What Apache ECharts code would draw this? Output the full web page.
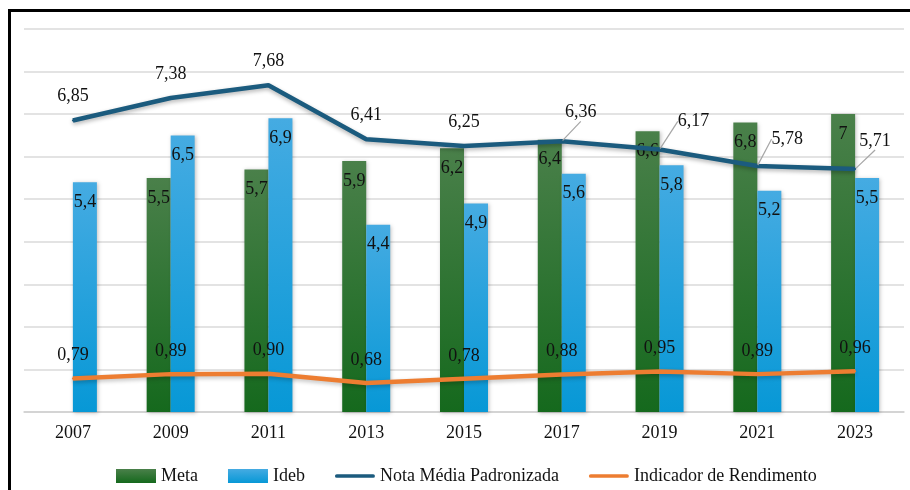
<!DOCTYPE html>
<html>
<head>
<meta charset="utf-8">
<script src="https://cdn.jsdelivr.net/npm/echarts@6/dist/echarts.min.js"></script>
<style>
  html, body { margin: 0; padding: 0; background: #fff; }
  #chart { width: 910px; height: 490px; }
</style>
</head>
<body>
<div id="chart"></div>
<script>
// anos
const years = ['2007', '2009', '2011', '2013', '2015', '2017', '2019', '2021', '2023'];
// barras
const meta = [null, 5.5, 5.7, 5.9, 6.2, 6.4, 6.6, 6.8, 7];
const ideb = [5.4, 6.5, 6.9, 4.4, 4.9, 5.6, 5.8, 5.2, 5.5];
// linhas
const notaMedia = [6.85, 7.38, 7.68, 6.41, 6.25, 6.36, 6.17, 5.78, 5.71];
const rendimento = [0.79, 0.89, 0.90, 0.68, 0.78, 0.88, 0.95, 0.89, 0.96];

// deslocamento dos rótulos com linha de chamada (só layout)
const notaCallout = { 5: [19, -5], 6: [34, -4], 7: [30, -3], 8: [20, -4] };

const font = 'Liberation Serif';
const comma = (v, d) => (d ? v.toFixed(d) : String(v)).replace('.', ',');

const greenGrad = new echarts.graphic.LinearGradient(0, 0, 0, 1, [
  { offset: 0, color: '#4a804a' }, { offset: 1, color: '#15691d' }
]);
const blueGrad = new echarts.graphic.LinearGradient(0, 0, 0, 1, [
  { offset: 0, color: '#45abe2' }, { offset: 1, color: '#0798d6' }
]);

const barLabel = {
  show: true, position: 'insideTop', distance: 11,
  fontFamily: font, fontSize: 18, color: '#111',
  formatter: p => comma(p.value)
};

const notaData = notaMedia.map((v, i) => notaCallout[i]
  ? { value: v, labelLine: { show: true } }
  : v);

const lineIcon = 'path://M2,0 L41,0 A2,2 0 0 1 41,4 L2,4 A2,2 0 0 1 2,0 Z';

const chart = echarts.init(document.getElementById('chart'));
chart.setOption({
  animation: false,
  grid: { left: 24, right: 6, top: 29, bottom: 78 },
  graphic: [{
    type: 'rect', silent: true, z: 100,
    shape: { x: 9.5, y: 10.5, width: 1000, height: 1000 },
    style: { fill: 'none', stroke: '#000', lineWidth: 3 }
  }],
  legend: {
    left: 111, top: 462, itemGap: 30, itemWidth: 40, itemHeight: 14,
    textStyle: { fontFamily: font, fontSize: 18, color: '#111' },
    data: [
      { name: 'Meta', icon: 'rect' },
      { name: 'Ideb', icon: 'rect' },
      { name: 'Nota Média Padronizada', icon: lineIcon },
      { name: 'Indicador de Rendimento', icon: lineIcon }
    ]
  },
  xAxis: {
    type: 'category', data: years,
    axisLine: { lineStyle: { color: '#d0d0d0', width: 1.5 } },
    axisTick: { show: false },
    axisLabel: { fontFamily: font, fontSize: 18, color: '#111', margin: 12 }
  },
  yAxis: {
    type: 'value', min: 0, max: 9, interval: 1,
    axisLabel: { show: false }, axisLine: { show: false }, axisTick: { show: false },
    splitLine: { lineStyle: { color: '#dadada', width: 1.5 } }
  },
  series: [
    {
      name: 'Meta', type: 'bar', data: meta, barWidth: 24, barGap: '0%',
      itemStyle: { color: greenGrad, shadowColor: 'rgba(0,0,0,0.25)', shadowBlur: 4, shadowOffsetX: 1, shadowOffsetY: 1 },
      label: barLabel
    },
    {
      name: 'Ideb', type: 'bar', data: ideb, barWidth: 24, barGap: '0%',
      itemStyle: { color: blueGrad, shadowColor: 'rgba(0,0,0,0.25)', shadowBlur: 4, shadowOffsetX: 1, shadowOffsetY: 1 },
      label: barLabel
    },
    {
      name: 'Nota Média Padronizada', type: 'line', data: notaData, z: 5,
      symbol: 'circle', symbolSize: 2, showSymbol: true,
      color: '#1b5b7e',
      lineStyle: { color: '#1b5b7e', width: 4.5, shadowColor: 'rgba(0,0,0,0.3)', shadowBlur: 4, shadowOffsetY: 2 },
      itemStyle: { color: '#1b5b7e' },
      label: {
        show: true, position: 'top', distance: 14,
        fontFamily: font, fontSize: 18, color: '#111',
        formatter: p => comma(p.value, 2)
      },
      labelLine: { lineStyle: { color: '#a6a6a6', width: 1.2 } },
      labelLayout: p => {
        const o = notaCallout[p.dataIndex];
        return o ? { dx: o[0], dy: o[1] } : {};
      }
    },
    {
      name: 'Indicador de Rendimento', type: 'line', data: rendimento, z: 5,
      symbol: 'circle', symbolSize: 2, showSymbol: true,
      color: '#ed7d31',
      lineStyle: { color: '#ed7d31', width: 4.5, shadowColor: 'rgba(0,0,0,0.25)', shadowBlur: 4, shadowOffsetY: 2 },
      itemStyle: { color: '#ed7d31' },
      label: {
        show: true, position: 'top', distance: 13,
        fontFamily: font, fontSize: 18, color: '#111',
        formatter: p => comma(p.value, 2)
      }
    }
  ]
});
</script>
</body>
</html>
